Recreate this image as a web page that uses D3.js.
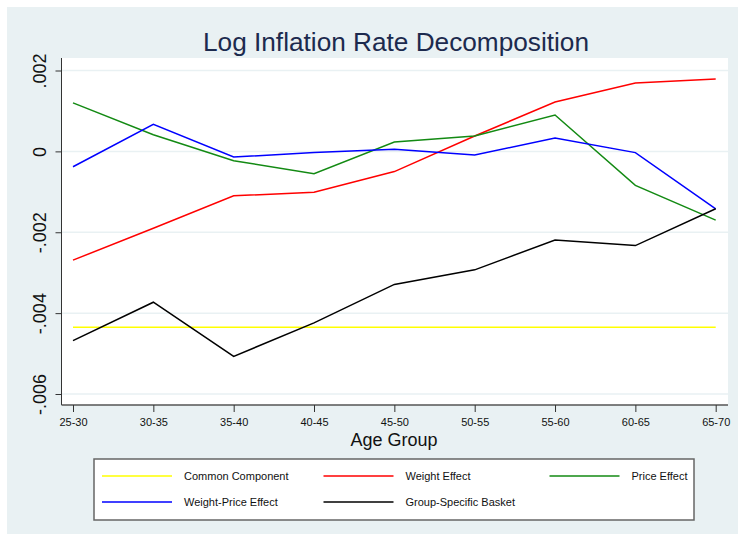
<!DOCTYPE html>
<html>
<head>
<meta charset="utf-8">
<script src="https://cdn.jsdelivr.net/npm/d3@7"></script>
<style>
  body{margin:0;background:#fff}
  svg{display:block}
</style>
</head>
<body>
<svg id="chart"></svg>
<script>
// age groups on the x axis
var ageGroups = ["25-30","30-35","35-40","40-45","45-50","50-55","55-60","60-65","65-70"]

// values
var commonComponent = [-.00435,-.00435,-.00435,-.00435,-.00435,-.00435,-.00435,-.00435,-.00435]
var weightEffect    = [-.00269,-.00190,-.00110,-.00101,-.00050,.00038,.00122,.00169,.00179]
var priceEffect     = [.00120,.00041,-.00023,-.00055,.00023,.00038,.00090,-.00084,-.00170]
var weightPrice     = [-.00038,.00067,-.00014,-.00003,.00005,-.00009,.00033,-.00003,-.00142]
var groupBasket     = [-.00468,-.00373,-.00507,-.00424,-.00329,-.00293,-.00219,-.00233,-.00142]

var yTicks = [.002,0,-.002,-.004,-.006]
var yTickLabels = [".002","0","-.002","-.004","-.006"]

var series = [
  {name:"Common Component", values:commonComponent, color:"#ffff00"},
  {name:"Weight Effect", values:weightEffect, color:"#ff0000"},
  {name:"Price Effect", values:priceEffect, color:"#138a13"},
  {name:"Weight-Price Effect", values:weightPrice, color:"#0000ff"},
  {name:"Group-Specific Basket", values:groupBasket, color:"#000000"}
]

var W = 738, H = 540
var svg = d3.select("#chart").attr("width",W).attr("height",H)

// stata style light background
svg.append("rect").attr("x",7).attr("y",7).attr("width",W-7).attr("height",527).attr("fill","#e9f1f3")

var plot = {left:61.5, right:728, top:58, bottom:405}
svg.append("rect")
   .attr("x",plot.left).attr("y",plot.top)
   .attr("width",plot.right-plot.left).attr("height",plot.bottom-plot.top)
   .attr("fill","#fff")

var x = d3.scalePoint()
      .domain(ageGroups)
      .range([73,715.7])
var y = d3.scaleLinear()
      .domain([-.006,.002])
      .range([394,70.5])

// grid lines
svg.append("g").selectAll("line")
   .data(yTicks)
   .enter()
   .append("line")
   .attr("x1",plot.left).attr("x2",plot.right)
   .attr("y1",d=>y(d)).attr("y2",d=>y(d))
   .attr("stroke","#e9f1f3").attr("stroke-width",1.5)

// y axis
var yAxis = svg.append("g")
   .attr("transform","translate("+plot.left+",0)")
   .call(d3.axisLeft(y).tickValues(yTicks).tickSize(6).tickFormat((d,i)=>yTickLabels[i]))
yAxis.select(".domain").attr("d","M0,"+plot.top+"V"+plot.bottom).attr("stroke","#333")
yAxis.selectAll(".tick line").attr("stroke","#333")
yAxis.selectAll(".tick text")
   .attr("transform","rotate(-90)")
   .attr("x",0).attr("y",-16)
   .attr("dy",0)
   .style("text-anchor","middle")
   .style("font-family","Liberation Sans, Arial, sans-serif")
   .style("font-size","18px")
   .attr("fill","#111")

// x axis
var xAxis = svg.append("g")
   .attr("transform","translate(0,"+plot.bottom+")")
   .call(d3.axisBottom(x).tickSize(7))
xAxis.select(".domain").attr("d","M"+plot.left+",0H"+plot.right).attr("stroke","#555").attr("stroke-width",1.5)
xAxis.selectAll(".tick line").attr("stroke","#333")
xAxis.selectAll(".tick text")
   .attr("y",13)
   .style("font-family","Liberation Sans, Arial, sans-serif")
   .style("font-size","11px")
   .attr("fill","#111")

svg.append("text")
   .text("Age Group")
   .attr("x",394).attr("y",446)
   .attr("text-anchor","middle")
   .attr("textLength",87).attr("lengthAdjust","spacingAndGlyphs")
   .style("font-family","Liberation Sans, Arial, sans-serif")
   .style("font-size","18px")
   .attr("fill","#111")

svg.append("text")
   .text("Log Inflation Rate Decomposition")
   .attr("x",396).attr("y",51)
   .attr("text-anchor","middle")
   .attr("textLength",386).attr("lengthAdjust","spacingAndGlyphs")
   .style("font-family","Liberation Sans, Arial, sans-serif")
   .style("font-size","26px")
   .attr("fill","#1c2a4e")

// lines
var line = d3.line()
   .x((d,i)=>x(ageGroups[i]))
   .y(d=>y(d))
svg.append("g").selectAll("path")
   .data(series)
   .enter()
   .append("path")
   .attr("d",d=>line(d.values))
   .attr("fill","none")
   .attr("stroke",d=>d.color)
   .attr("stroke-width",1.5)

// legend
svg.append("rect")
   .attr("x",94).attr("y",459)
   .attr("width",600).attr("height",61)
   .attr("fill","#fff").attr("stroke","#666").attr("stroke-width",1.5)

var legendPos = [[102,476],[323.5,476],[549.5,476],[102,502],[323.5,502]]
var leg = svg.append("g").selectAll("g")
   .data(series)
   .enter()
   .append("g")
   .attr("transform",(d,i)=>"translate("+legendPos[i][0]+","+legendPos[i][1]+")")
leg.append("line")
   .attr("x1",0).attr("x2",70)
   .attr("stroke",d=>d.color).attr("stroke-width",1.5)
leg.append("text")
   .text(d=>d.name)
   .attr("x",82).attr("y",4)
   .style("font-family","Liberation Sans, Arial, sans-serif")
   .style("font-size","11px")
   .attr("fill","#111")
</script>
</body>
</html>
